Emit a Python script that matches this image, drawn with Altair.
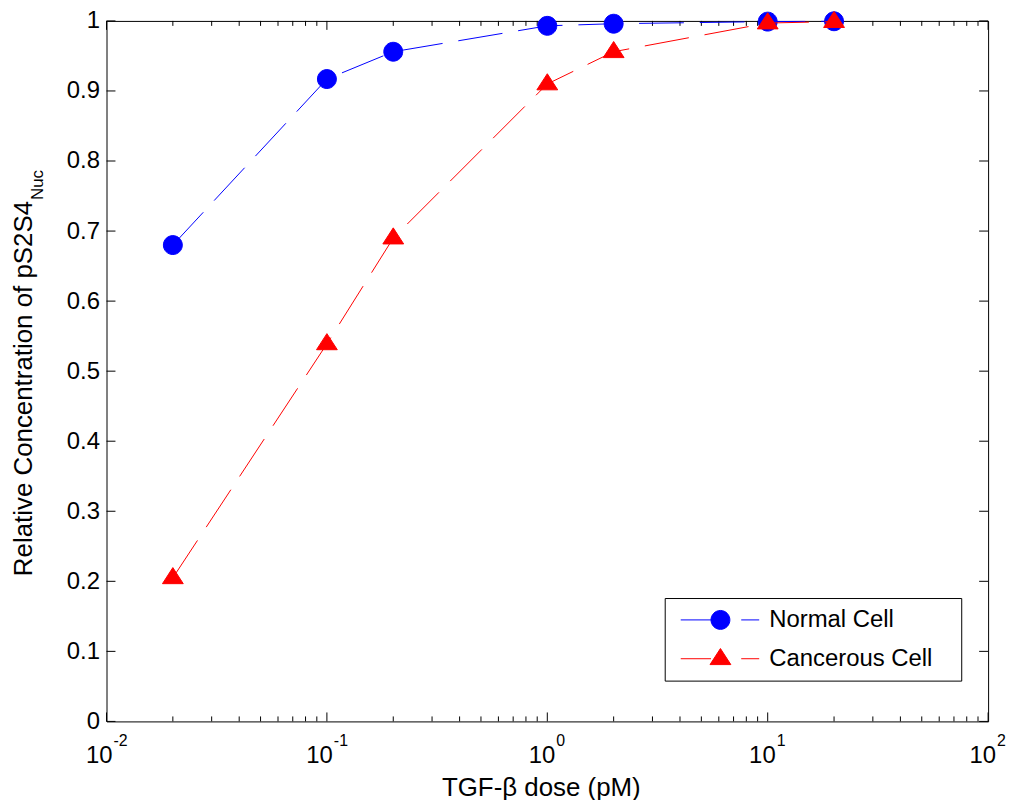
import altair as alt
import pandas as pd

# ---------------- data ----------------
dose = [0.02, 0.1, 0.2, 1, 2, 10, 20]
normal = [0.680, 0.917, 0.956, 0.993, 0.996, 0.999, 0.9995]
cancer = [0.205, 0.539, 0.690, 0.910, 0.956, 0.997, 0.999]
series_names = ["Normal Cell", "Cancerous Cell"]
series_colors = ["#0000FF", "#FF0000"]

x_major = [0.01, 0.1, 1, 10, 100]
x_exponents = ["-2", "-1", "0", "1", "2"]
x_minor = [m * 10.0 ** k for k in range(-2, 2) for m in range(2, 10)]
y_ticks = [0, 0.1, 0.2, 0.3, 0.4, 0.5, 0.6, 0.7, 0.8, 0.9, 1]

x_title = "TGF-\u03b2 dose (pM)"
y_title = "Relative Concentration of pS2S4"
y_sub = "Nuc"

FONT = "Liberation Sans"
W, H = 886, 704

df = pd.DataFrame(
    {
        "dose": dose * 2,
        "value": normal + cancer,
        "series": [series_names[0]] * len(dose) + [series_names[1]] * len(dose),
    }
)
df_major = pd.DataFrame({"v": x_major, "base": ["10"] * len(x_major), "exp": x_exponents})
df_minor = pd.DataFrame({"v": x_minor})
df_y = pd.DataFrame({"v": y_ticks})

xs = alt.Scale(type="log", domain=[0.01, 100], nice=False)
ys = alt.Scale(domain=[0, 1], nice=False, zero=False)

yaxis = alt.Axis(
    values=y_ticks,
    labelExpr="datum.value == 0 ? '0' : datum.value == 1 ? '1' : format(datum.value, '.1f')",
    ticks=False,
    tickSize=0,
    domain=False,
    grid=False,
    labelFont=FONT,
    labelFontSize=24,
    labelColor="black",
    labelPadding=7,
    title=None,
)

# marker paths (unit square coords)
circle_path = "M1,0A1,1,0,1,1,-1,0A1,1,0,1,1,1,0Z"
tri_path = "M0,-1.08L1.1,0.62L-1.1,0.62Z"
leg_lines = "M-4.2,0L-1,0M2.2,0L4.1,0"

legend = alt.Legend(
    title=None,
    orient="none",
    legendX=561,
    legendY=580,
    padding=10,
    fillColor="white",
    strokeColor="black",
    cornerRadius=0,
    labelFont=FONT,
    labelFontSize=24,
    labelColor="black",
    labelLimit=400,
    labelExpr="datum.label + '\u2800'",
    symbolSize=361,
    symbolStrokeWidth=1,
    symbolOffset=34,
    labelOffset=37,
    rowPadding=14,
)

color_scale = alt.Scale(domain=series_names, range=series_colors)
shape_scale = alt.Scale(domain=series_names, range=[circle_path, tri_path])
legend_shape_scale = alt.Scale(
    domain=series_names, range=[leg_lines + circle_path, leg_lines + tri_path]
)

X = alt.X("dose:Q", scale=xs, axis=None)
Y = alt.Y("value:Q", scale=ys, axis=yaxis)


def line_layer(name, color):
    return (
        alt.Chart(df)
        .transform_filter(alt.datum.series == name)
        .mark_line(color=color, strokeWidth=1, strokeDash=[45, 16])
        .encode(x=X, y=Y, order="dose:Q")
    )


def point_layer(name):
    return (
        alt.Chart(df)
        .transform_filter(alt.datum.series == name)
        .mark_point(filled=True, size=361, strokeWidth=1, opacity=1)
        .encode(
            x=X,
            y=Y,
            fill=alt.Fill("series:N", scale=color_scale, legend=None),
            stroke=alt.Stroke("series:N", scale=color_scale, legend=None),
            shape=alt.Shape("series:N", scale=shape_scale, legend=None),
        )
    )


# legend-only layer (no rows drawn; explicit scale domains drive the legend)
legend_layer = (
    alt.Chart(df)
    .transform_filter("false")
    .mark_point(filled=True, size=361, strokeWidth=1, opacity=1)
    .encode(
        x=X,
        y=Y,
        fill=alt.Fill("series:N", scale=color_scale, legend=legend),
        stroke=alt.Stroke("series:N", scale=color_scale, legend=legend),
        shape=alt.Shape("series:N", scale=legend_shape_scale, legend=legend),
    )
)

# inward ticks
XV = alt.X("v:Q", scale=xs, axis=None)
YV = alt.Y("v:Q", scale=ys, axis=yaxis)
tick_layers = [
    alt.Chart(df_major).mark_rule(color="black", strokeWidth=1).encode(x=XV, y=alt.value(H), y2=alt.value(H - 9)),
    alt.Chart(df_major).mark_rule(color="black", strokeWidth=1).encode(x=XV, y=alt.value(0), y2=alt.value(9)),
    alt.Chart(df_minor).mark_rule(color="black", strokeWidth=1).encode(x=XV, y=alt.value(H), y2=alt.value(H - 5)),
    alt.Chart(df_minor).mark_rule(color="black", strokeWidth=1).encode(x=XV, y=alt.value(0), y2=alt.value(5)),
    alt.Chart(df_y).mark_rule(color="black", strokeWidth=1).encode(y=YV, x=alt.value(0), x2=alt.value(9)),
    alt.Chart(df_y).mark_rule(color="black", strokeWidth=1).encode(y=YV, x=alt.value(W), x2=alt.value(W - 9)),
]

# x tick labels: 10 with superscript exponent
neg = "indexof(datum.exp, '-') >= 0"
pos = "indexof(datum.exp, '-') < 0"
label_layers = []
for cond, d in [(neg, 6), (pos, 8)]:
    label_layers.append(
        alt.Chart(df_major)
        .transform_filter(cond)
        .mark_text(align="right", baseline="alphabetic", font=FONT, fontSize=24, color="black", dx=d)
        .encode(x=XV, y=alt.value(746), text="base:N")
    )
    label_layers.append(
        alt.Chart(df_major)
        .transform_filter(cond)
        .mark_text(align="left", baseline="alphabetic", font=FONT, fontSize=16, color="black", dx=d + 1)
        .encode(x=XV, y=alt.value(729), text="exp:N")
    )

title_layers = [
    alt.Chart(pd.DataFrame({"t": [x_title]}))
    .mark_text(align="center", baseline="alphabetic", font=FONT, fontSize=26, color="black")
    .encode(x=alt.value(437), y=alt.value(779), text="t:N"),
    alt.Chart(pd.DataFrame({"t": [y_title]}))
    .mark_text(align="left", baseline="alphabetic", font=FONT, fontSize=26, color="black", angle=270)
    .encode(x=alt.value(-75), y=alt.value(558), text="t:N"),
    alt.Chart(pd.DataFrame({"t": [y_sub]}))
    .mark_text(align="left", baseline="alphabetic", font=FONT, fontSize=17, color="black", angle=270)
    .encode(x=alt.value(-64), y=alt.value(180), text="t:N"),
]

chart = (
    alt.layer(
        *tick_layers,
        line_layer(series_names[0], series_colors[0]),
        point_layer(series_names[0]),
        line_layer(series_names[1], series_colors[1]),
        point_layer(series_names[1]),
        legend_layer,
        *label_layers,
        *title_layers,
    )
    .resolve_scale(shape="independent", fill="independent", stroke="independent")
    .properties(
        width=W,
        height=H,
        padding={"left": 99, "top": 11, "right": 20, "bottom": 77},
        autosize=alt.AutoSizeParams(type="none"),
        background="white",
    )
    .configure_view(stroke="black", strokeWidth=1)
    .configure_legend(strokeWidth=1)
)

chart.save("out.html", embed_options={"renderer": "svg", "actions": False})
